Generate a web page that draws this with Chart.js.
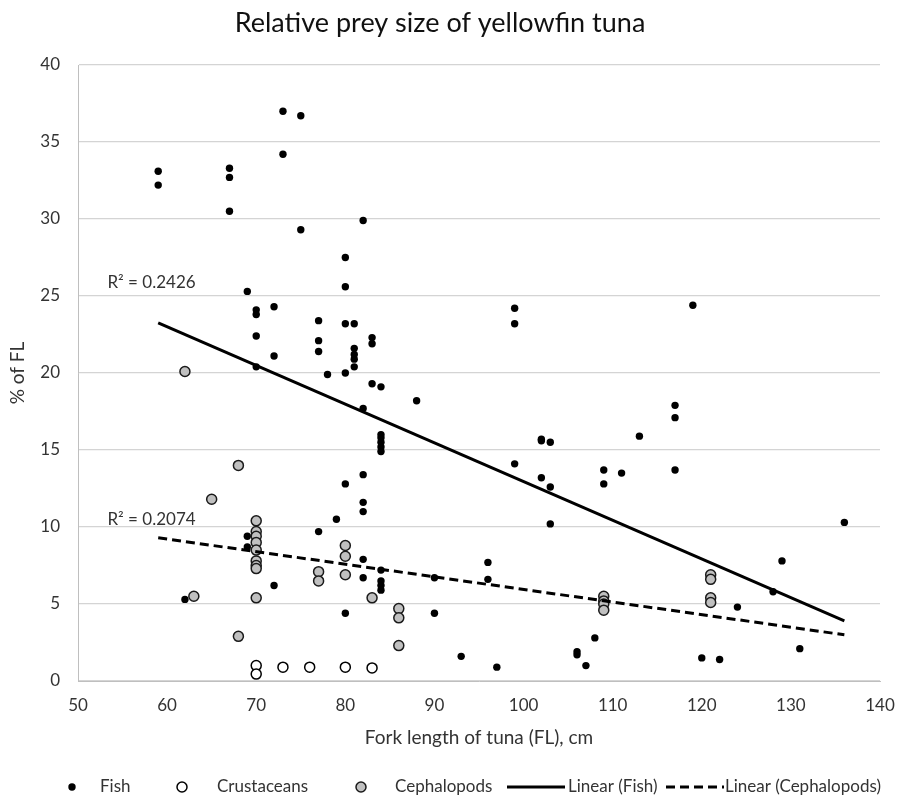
<!DOCTYPE html>
<html>
<head>
<meta charset="utf-8">
<script src="https://cdn.jsdelivr.net/npm/chart.js@4.4.0/dist/chart.umd.min.js"></script>
<style>
    html, body { margin: 0; padding: 0; background: #fff; }
</style>
</head>
<body>
<canvas id="preyChart" width="916" height="807"></canvas>
<script>
// fork length (cm) and prey size (% of FL)
const fishX = [59, 59, 62, 67, 67, 67, 69, 69, 69, 70, 70, 70, 70, 72, 72, 72, 73, 73, 75, 75,
    77, 77, 77, 77, 78, 79, 80, 80, 80, 80, 80, 80, 81, 81, 81, 81, 81,
    82, 82, 82, 82, 82, 82, 82, 83, 83, 83, 84, 84, 84, 84, 84, 84, 84, 84, 84, 84,
    88, 90, 90, 93, 96, 96, 97, 99, 99, 99, 102, 102, 102, 103, 103, 103,
    106, 106, 107, 108, 109, 109, 111, 113, 117, 117, 117, 119, 120, 122, 124, 128, 129, 131, 136];
const fishY = [33.1, 32.2, 5.3, 33.3, 32.7, 30.5, 25.3, 9.4, 8.7, 24.1, 23.8, 22.4, 20.4, 24.3, 21.1, 6.2, 37.0, 34.2, 36.7, 29.3,
    23.4, 22.1, 21.4, 9.7, 19.9, 10.5, 27.5, 25.6, 23.2, 20.0, 12.8, 4.4, 23.2, 21.6, 21.2, 20.9, 20.4,
    29.9, 17.7, 13.4, 11.6, 11.0, 7.9, 6.7, 22.3, 21.9, 19.3, 19.1, 16.0, 15.8, 15.5, 15.2, 14.9, 7.2, 6.5, 6.2, 5.9,
    18.2, 6.7, 4.4, 1.6, 7.7, 6.6, 0.9, 24.2, 23.2, 14.1, 15.7, 15.6, 13.2, 15.5, 12.6, 10.2,
    1.9, 1.7, 1.0, 2.8, 13.7, 12.8, 13.5, 15.9, 17.9, 17.1, 13.7, 24.4, 1.5, 1.4, 4.8, 5.8, 7.8, 2.1, 10.3];

const crustX = [70, 70, 73, 76, 80, 83];
const crustY = [1.0, 0.45, 0.9, 0.9, 0.9, 0.85];

const cephX = [62, 63, 65, 68, 68, 70, 70, 70, 70, 70, 70, 70, 70, 70,
    77, 77, 80, 80, 80, 83, 86, 86, 86, 109, 109, 109, 109, 121, 121, 121, 121];
const cephY = [20.1, 5.5, 11.8, 14.0, 2.9, 10.4, 9.7, 9.4, 9.0, 8.5, 7.8, 7.5, 7.3, 5.4,
    7.1, 6.5, 8.8, 8.1, 6.9, 5.4, 4.7, 4.1, 2.3, 5.5, 5.2, 5.0, 4.6, 6.9, 6.6, 5.4, 5.1];

// trend line end points
const trendX = [59, 136];
const fishTrendY = [23.25, 3.9];
const cephTrendY = [9.3, 3.0];

const r2Text = ['R² = 0.2426', 'R² = 0.2074'];
const r2X = [53.3, 53.3];
const r2Y = [25.9, 10.5];

const seriesNames = ['Fish', 'Crustaceans', 'Cephalopods', 'Linear (Fish)', 'Linear (Cephalopods)'];

const toPoints = (xs, ys) => xs.map((v, i) => ({ x: v, y: ys[i] }));

const FONT = 'Lato, "Open Sans", sans-serif';
const TEXT = '#333333';

// legend layout (centre of symbol, start of text)
const legendSymX = [72, 182, 361, 536, 695];
const legendTextX = [100, 217, 395, 568, 725];
const legendY = 787;

const extras = {
    id: 'extras',
    afterDraw(chart) {
        const { ctx } = chart;
        const x = chart.scales.x;
        const y = chart.scales.y;

        ctx.save();
        ctx.font = '17px ' + FONT;
        ctx.fillStyle = TEXT;
        ctx.textBaseline = 'middle';
        ctx.textAlign = 'left';

        r2Text.forEach((t, i) => {
            ctx.fillText(t, x.getPixelForValue(r2X[i]), y.getPixelForValue(r2Y[i]));
        });

        chart.data.datasets.forEach((ds, i) => {
            const cx = legendSymX[i];
            if (ds.showLine) {
                ctx.beginPath();
                ctx.setLineDash(ds.borderDash || []);
                ctx.lineWidth = ds.borderWidth;
                ctx.strokeStyle = ds.borderColor;
                ctx.moveTo(cx - 29, legendY);
                ctx.lineTo(cx + 29, legendY);
                ctx.stroke();
                ctx.setLineDash([]);
            } else {
                ctx.beginPath();
                ctx.arc(cx, legendY, ds.pointRadius, 0, Math.PI * 2);
                ctx.fillStyle = ds.backgroundColor;
                ctx.fill();
                if (ds.borderWidth) {
                    ctx.lineWidth = ds.borderWidth;
                    ctx.strokeStyle = ds.borderColor;
                    ctx.stroke();
                }
            }
            ctx.fillStyle = TEXT;
            ctx.fillText(ds.label, legendTextX[i], legendY);
        });
        ctx.restore();
    }
};

const ctx = document.getElementById('preyChart').getContext('2d');

const chart = new Chart(ctx, {
    type: 'scatter',
    data: {
        datasets: [{
            label: seriesNames[0],
            data: toPoints(fishX, fishY),
            pointRadius: 3.7,
            backgroundColor: '#000000',
            borderColor: '#000000',
            borderWidth: 0,
            order: 5
        }, {
            label: seriesNames[1],
            data: toPoints(crustX, crustY),
            pointRadius: 5,
            backgroundColor: '#ffffff',
            borderColor: '#000000',
            borderWidth: 1.5,
            order: 4
        }, {
            label: seriesNames[2],
            data: toPoints(cephX, cephY),
            pointRadius: 5,
            backgroundColor: '#c0c0c0',
            borderColor: '#1a1a1a',
            borderWidth: 1.5,
            order: 3
        }, {
            label: seriesNames[3],
            data: toPoints(trendX, fishTrendY),
            showLine: true,
            pointRadius: 0,
            borderColor: '#000000',
            borderWidth: 3,
            order: 1
        }, {
            label: seriesNames[4],
            data: toPoints(trendX, cephTrendY),
            showLine: true,
            pointRadius: 0,
            borderColor: '#000000',
            borderWidth: 3,
            borderDash: [9, 5],
            order: 2
        }]
    },
    options: {
        responsive: false,
        animation: false,
        layout: { padding: { left: 0, right: 36, top: 0, bottom: 0 } },
        plugins: {
            legend: { display: false },
            tooltip: { enabled: false },
            title: {
                display: true,
                text: 'Relative prey size of yellowfin tuna',
                color: '#111111',
                font: { family: FONT, size: 27, weight: 'normal' },
                padding: { top: 7, bottom: 25.6 }
            }
        },
        scales: {
            x: {
                type: 'linear',
                min: 50,
                max: 140,
                ticks: { stepSize: 10, padding: 14, color: TEXT, font: { family: FONT, size: 17 } },
                grid: { display: false, drawTicks: false },
                border: { display: true, color: '#bfbfbf', width: 1 },
                title: {
                    display: true,
                    text: 'Fork length of tuna (FL), cm',
                    color: TEXT,
                    font: { family: FONT, size: 19 },
                    padding: { top: 0, bottom: 58 }
                },
                afterFit(scale) { scale.height = 126; }
            },
            y: {
                min: 0,
                max: 40,
                ticks: { stepSize: 5, padding: 18, color: TEXT, font: { family: FONT, size: 17 } },
                grid: { color: '#d4d4d4', lineWidth: 1.3, drawTicks: false },
                border: { display: true, color: '#bfbfbf', width: 1 },
                title: {
                    display: true,
                    text: '% of FL',
                    color: TEXT,
                    font: { family: FONT, size: 19 },
                    padding: { top: 6, bottom: 0 }
                },
                afterFit(scale) { scale.width = 78; }
            }
        }
    },
    plugins: [extras]
});
</script>
</body>
</html>
